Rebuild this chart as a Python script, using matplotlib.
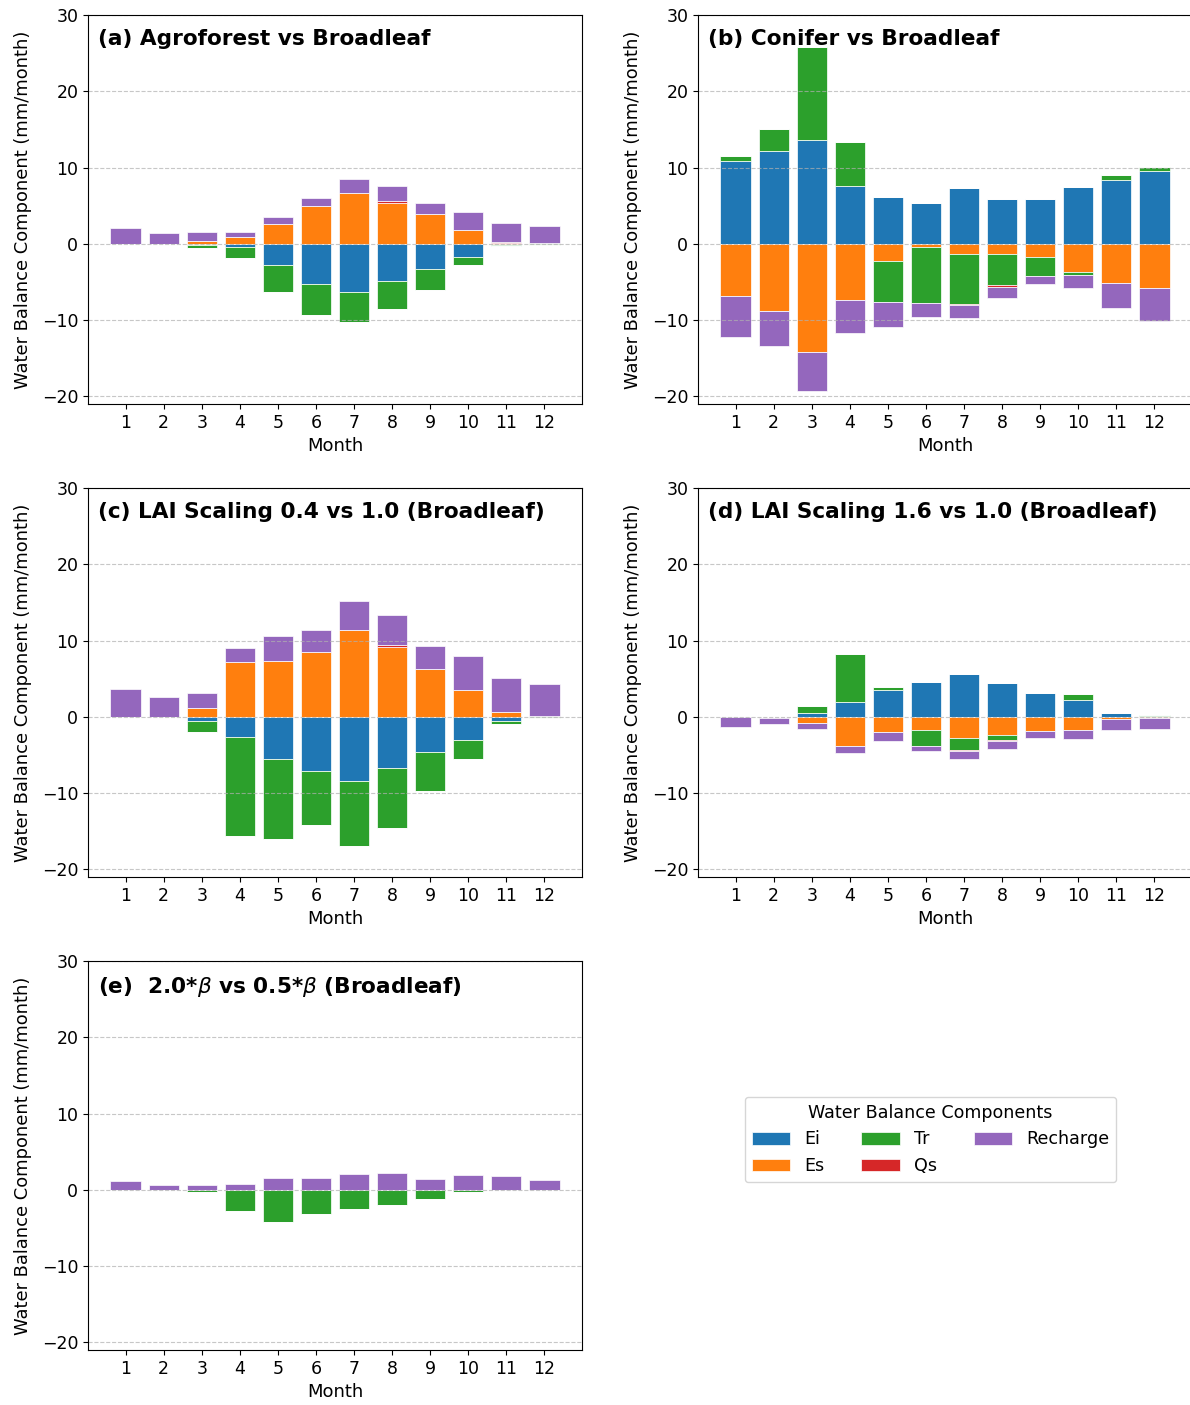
import matplotlib
matplotlib.use("Agg")
import matplotlib.pyplot as plt
import numpy as np

months = list(range(1, 13))
components = ["Ei", "Es", "Tr", "Qs", "Recharge"]
colors = ["#1f77b4", "#ff7f0e", "#2ca02c", "#d62728", "#9467bd"]

titles = [
    "(a) Agroforest vs Broadleaf",
    "(b) Conifer vs Broadleaf",
    "(c) LAI Scaling 0.4 vs 1.0 (Broadleaf)",
    "(d) LAI Scaling 1.6 vs 1.0 (Broadleaf)",
    r"(e)  2.0*$\beta$ vs 0.5*$\beta$ (Broadleaf)",
]

# Panel (a)
Ei_a = [0, 0, -0.15, -0.44, -2.84, -5.24, -6.29, -4.89, -3.28, -1.7, -0.17, 0]
Es_a = [0, 0, 0.39, 0.92, 2.66, 5.02, 6.6, 5.37, 3.93, 1.83, 0.15, 0.05]
Tr_a = [0, 0, -0.45, -1.48, -3.45, -4.06, -3.97, -3.67, -2.75, -1.14, -0.15, -0.1]
Qs_a = [0, 0, 0, 0, 0, 0, 0.1, 0.2, 0, 0, 0.07, 0]
Rc_a = [2.05, 1.48, 1.2, 0.65, 0.88, 1.0, 1.75, 2.03, 1.48, 2.4, 2.48, 2.3]

# Panel (b)
Ei_b = [10.87, 12.23, 13.58, 7.6, 6.16, 5.33, 7.29, 5.94, 5.94, 7.47, 8.38, 9.61]
Es_b = [-6.9, -8.82, -14.19, -7.38, -2.31, -0.48, -1.31, -1.31, -1.75, -3.71, -5.15, -5.85]
Tr_b = [0.61, 2.84, 12.23, 5.76, -5.38, -7.29, -6.59, -4.1, -2.53, -0.39, 0.61, 0.43]
Qs_b = [0, 0, 0, 0, 0, 0, -0.13, -0.26, 0, 0, 0, 0]
Rc_b = [-5.33, -4.63, -5.15, -4.28, -3.18, -1.83, -1.7, -1.4, -0.96, -1.75, -3.32, -4.28]

# Panel (c)
Ei_c = [0, -0.08, -0.57, -2.63, -5.47, -7.05, -8.45, -6.74, -4.6, -2.98, -0.53, 0]
Es_c = [0, 0, 1.18, 7.13, 7.35, 8.49, 11.42, 9.15, 6.21, 3.46, 0.61, 0.08]
Tr_c = [0, 0, -1.44, -12.95, -10.5, -7.09, -8.53, -7.79, -5.12, -2.49, -0.35, -0.17]
Qs_c = [0, 0, 0, 0, 0, 0, 0, 0.22, 0, 0, 0, 0.05]
Rc_c = [3.68, 2.54, 1.93, 1.93, 3.2, 2.84, 3.81, 4.02, 3.07, 4.46, 4.47, 4.11]

# Panel (d)
Ei_d = [0, 0, 0.48, 1.97, 3.46, 4.6, 5.66, 4.39, 3.16, 2.24, 0.44, 0.05]
Es_d = [0, -0.09, -0.75, -3.86, -2.02, -1.67, -2.72, -2.41, -1.89, -1.75, -0.31, -0.1]
Tr_d = [0, 0, 0.92, 6.23, 0.44, -2.19, -1.67, -0.57, 0, 0.79, 0.09, 0.13]
Qs_d = [0, 0, 0, 0, 0, 0, -0.15, -0.18, 0, 0, 0, 0]
Rc_d = [-1.32, -0.79, -0.83, -0.92, -1.14, -0.66, -0.94, -1.01, -0.83, -1.18, -1.45, -1.44]

# Panel (e)
Ei_e = [0] * 12
Es_e = [0] * 12
Tr_e = [0, 0, -0.22, -2.84, -4.19, -3.23, -2.45, -2.05, -1.18, -0.35, 0, 0]
Qs_e = [0] * 12
Rc_e = [1.14, 0.66, 0.57, 0.74, 1.57, 1.57, 2.05, 2.18, 1.48, 1.97, 1.75, 1.35]

panels = [
    [Ei_a, Es_a, Tr_a, Qs_a, Rc_a],
    [Ei_b, Es_b, Tr_b, Qs_b, Rc_b],
    [Ei_c, Es_c, Tr_c, Qs_c, Rc_c],
    [Ei_d, Es_d, Tr_d, Qs_d, Rc_d],
    [Ei_e, Es_e, Tr_e, Qs_e, Rc_e],
]

W, H = 1190, 1405
fig = plt.figure(figsize=(W / 100, H / 100), dpi=100)

ax_w, ax_h = 494, 389
lefts = [88, 698, 88, 698, 88]
tops = [15, 15, 488, 488, 961]

handles = None
for i, (data, title) in enumerate(zip(panels, titles)):
    ax = fig.add_axes([lefts[i] / W, 1 - (tops[i] + ax_h) / H, ax_w / W, ax_h / H])
    pos_bottom = np.zeros(12)
    neg_bottom = np.zeros(12)
    hs = []
    for vals, name, col in zip(data, components, colors):
        v = np.array(vals, dtype=float)
        pos = np.where(v > 0, v, 0)
        neg = np.where(v < 0, v, 0)
        h = ax.bar(months, pos, bottom=pos_bottom, color=col, label=name,
                   edgecolor="white", linewidth=0.5, width=0.8)
        ax.bar(months, neg, bottom=neg_bottom, color=col,
               edgecolor="white", linewidth=0.5, width=0.8)
        pos_bottom += pos
        neg_bottom += neg
        hs.append(h)
    if handles is None:
        handles = hs
    ax.set_ylim(-21, 30)
    ax.set_yticks([-20, -10, 0, 10, 20, 30])
    ax.set_xticks(months)
    ax.tick_params(labelsize=12.5)
    ax.grid(axis="y", linestyle="--", alpha=0.7)
    ax.set_xlabel("Month", fontsize=13)
    ax.set_ylabel("Water Balance Component (mm/month)", fontsize=12.9,
                  labelpad=7)
    ax.text(0.02, 0.965, title, transform=ax.transAxes, ha="left", va="top",
            fontsize=15.6, fontweight="bold")

fig.legend(handles, components, title="Water Balance Components", ncol=3,
           loc="center", bbox_to_anchor=(930.5 / W, 1 - 1139.5 / H),
           fontsize=12.6, title_fontsize=12.6, handlelength=2.2,
           columnspacing=2.1)

fig.savefig("out.png", dpi=100)
